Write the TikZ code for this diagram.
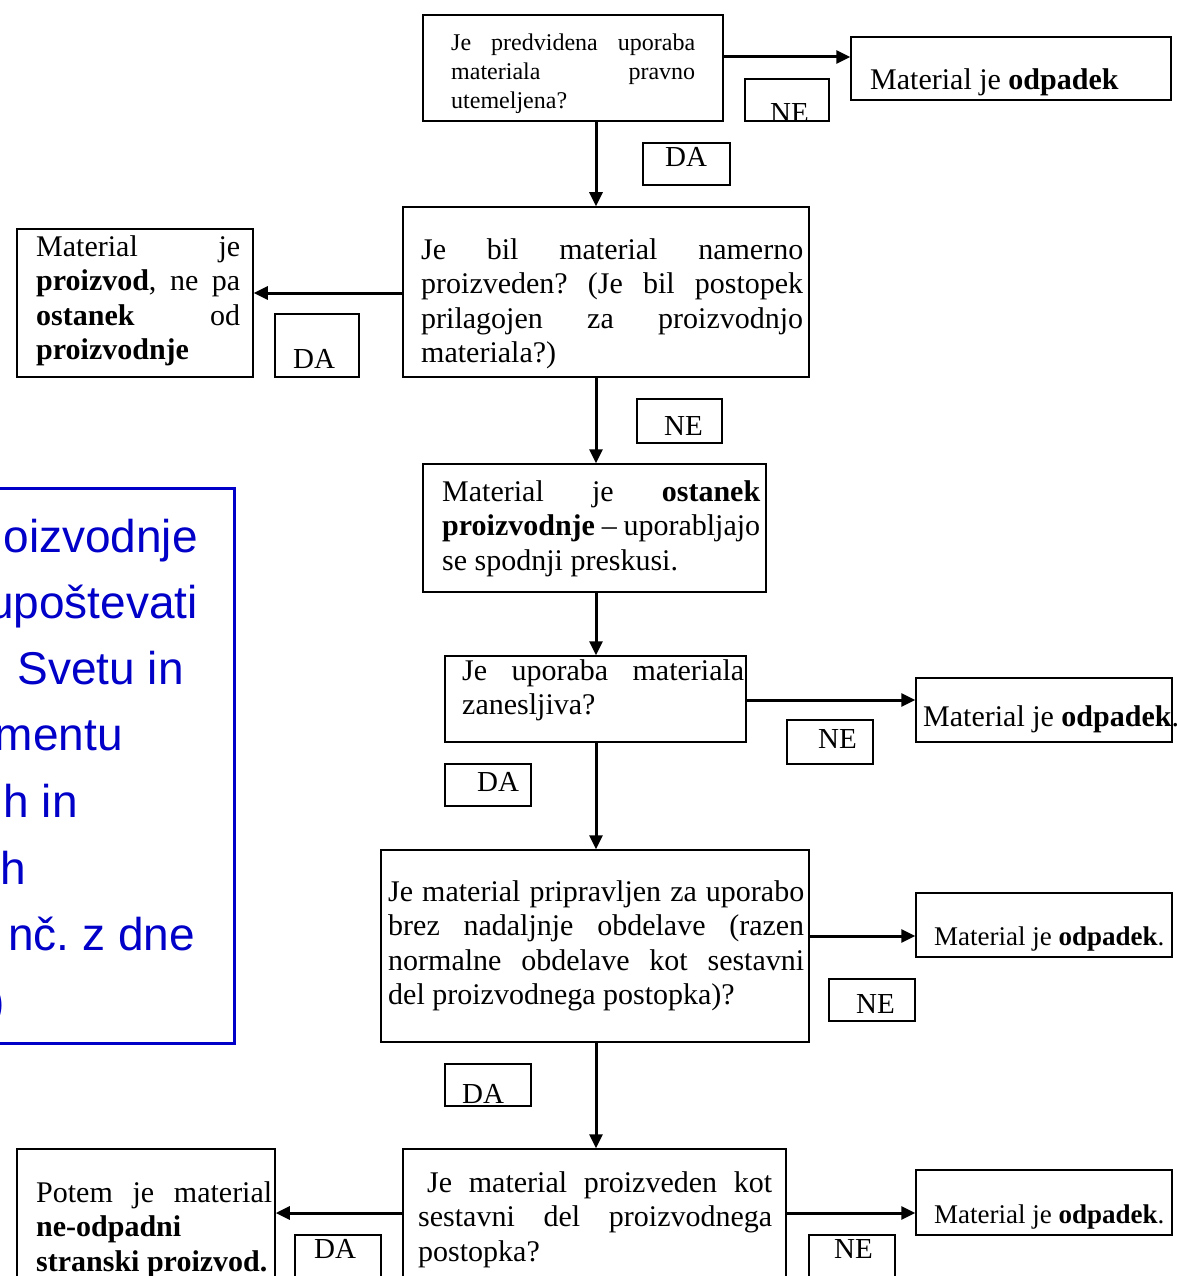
\documentclass[tikz,border=0pt]{standalone}
\usepackage{fontspec}
\setmainfont{Liberation Serif}
\newfontfamily\arialf{Liberation Sans}
\usetikzlibrary{arrows.meta,fit}
\definecolor{pptblue}{RGB}{0,0,200}
\tolerance=10000 \hbadness=10000 \hfuzz=8pt
\frenchspacing
\begin{document}
\begin{tikzpicture}[x=1pt,y=-1pt,
  box/.style={draw, line width=1.5pt, inner sep=0pt, rectangle},
  tag/.style={draw, line width=1.5pt, inner sep=0pt, rectangle},
  txt/.style={anchor=base west, inner sep=0pt, align=justify, font=\fontsize{30}{34.5}\selectfont},
  one/.style={anchor=base west, inner sep=0pt, font=\fontsize{30}{34.5}\selectfont},
  lab/.style={anchor=base west, inner sep=0pt, font=\fontsize{29}{33}\selectfont},
  arr/.style={line width=3pt, -{Triangle[length=14pt,width=13pt]}},
  blu/.style={anchor=base east, inner sep=0pt, text=pptblue, font=\arialf\fontsize{46}{66}\selectfont}]
\useasboundingbox (0,0) rectangle (1177,1276);
\clip (0,0) rectangle (1177,1276);

% row / spine coordinates
\coordinate (spine) at (596,0);
\coordinate (rowA) at (0,57);
\coordinate (rowB) at (0,293);
\coordinate (rowE) at (0,700);
\coordinate (rowG) at (0,936);
\coordinate (rowI) at (0,1213);

% top question
\node[box, fit={(423,15) (723,121)}] (A) {};
\node[txt, text width=244pt, font=\fontsize{24}{29}\selectfont] (At) at (451,51)
  {Je predvidena uporaba\linebreak materiala pravno\linebreak utemeljena?};
\node[box, fit={(851,37) (1171,100)}] (R1) {};
\node[one] (R1t) at (870,90) {Material je \textbf{odpadek}};
\begin{scope}
  \clip (745,79) rectangle (829,121);
  \node[lab] (NE1t) at (770,123) {NE};
\end{scope}
\node[tag, fit={(745,79) (829,121)}] (NE1) {};
\node[tag, fit={(643,143) (730,185)}] (DA1) {};
\node[lab] (DA1t) at (665,167) {DA};

% second question
\node[box, fit={(403,207) (809,377)}] (B) {};
\node[txt, text width=382pt] (Bt) at (421,259)
  {Je bil material namerno\linebreak proizveden? (Je bil postopek\linebreak prilagojen za proizvodnjo\linebreak materiala?)};
\node[box, fit={(17,229) (253,377)}] (C) {};
\node[txt, text width=204pt] (Ct) at (36,256)
  {Material je\linebreak \textbf{proizvod}, ne pa\linebreak \textbf{ostanek} od\linebreak \textbf{proizvodnje}};
\node[tag, fit={(275,314) (359,377)}] (DA2) {};
\node[lab] (DA2t) at (293,368) {DA};
\node[tag, fit={(637,399) (722,443)}] (NE2) {};
\node[lab] (NE2t) at (664,435) {NE};

% ostanek proizvodnje
\node[box, fit={(423,464) (766,592)}] (D) {};
\node[txt, text width=318pt] (Dt) at (442,501)
  {Material je \textbf{ostanek}\linebreak \textbf{proizvodnje} – uporabljajo\linebreak se spodnji preskusi.};

% third question
\node[box, fit={(445,656) (746,742)}] (E) {};
\node[txt, text width=282pt] (Et) at (462,680)
  {Je uporaba materiala\linebreak zanesljiva?};
\node[box, fit={(916,678) (1172,742)}] (F) {};
\node[one] (Ft) at (923,726) {Material je \textbf{odpadek}.};
\node[tag, fit={(787,720) (873,764)}] (NE3) {};
\node[lab] (NE3t) at (818,748) {NE};
\node[tag, fit={(445,764) (531,806)}] (DA3) {};
\node[lab] (DA3t) at (477,791) {DA};

% fourth question
\node[box, fit={(381,850) (809,1042)}] (G) {};
\node[txt, text width=416pt] (Gt) at (388,901)
  {Je material pripravljen za uporabo\linebreak brez nadaljnje obdelave (razen\linebreak normalne obdelave kot sestavni\linebreak del proizvodnega postopka)?};
\node[box, fit={(916,893) (1172,957)}] (H) {};
\node[one, font=\fontsize{27}{31}\selectfont] (Ht) at (934,945) {Material je \textbf{odpadek}.};
\node[tag, fit={(829,979) (915,1021)}] (NE4) {};
\node[lab] (NE4t) at (856,1013) {NE};
\node[tag, fit={(445,1064) (531,1106)}] (DA4) {};
\node[lab] (DA4t) at (462,1103) {DA};

% fifth question
\node[box, fit={(403,1149) (786,1292)}] (I) {};
\node[txt, text width=354pt] (It) at (418,1192)
  {\hspace*{9pt}Je material proizveden kot\linebreak sestavni del proizvodnega\linebreak postopka?};
\node[box, fit={(17,1149) (275,1292)}] (J) {};
\node[txt, text width=236pt] (Jt) at (36,1202)
  {Potem je material\linebreak \mbox{\textbf{ne-odpadni}}\linebreak \textbf{stranski proizvod.}};
\node[tag, fit={(295,1235) (381,1292)}] (DA5) {};
\node[lab] (DA5t) at (314,1258) {DA};
\node[box, fit={(916,1170) (1172,1235)}] (K) {};
\node[one, font=\fontsize{27}{31}\selectfont] (Kt) at (934,1223) {Material je \textbf{odpadek}.};
\node[tag, fit={(809,1235) (895,1292)}] (NE5) {};
\node[lab] (NE5t) at (834,1258) {NE};

% blue note (cut off on the left)
\node[draw=pptblue, line width=3pt, inner sep=0pt, fit={(-30,488) (234,1043)}] (N) {};
\node[blu] (N1) at (198,552) {oizvodnje};
\node[blu] (N2) at (198,618) {upoštevati};
\node[blu] (N3) at (184,684) {Svetu in};
\node[blu] (N4) at (123,750) {mentu};
\node[blu] (N5) at (78,817) {h in};
\node[blu] (N6) at (26,884) {h};
\node[blu] (N7) at (195,950) {nč. z dne};
\node[blu] (N8) at (5,1017) {)};

% connectors
\draw[arr] (A.east |- rowA) -- (R1.west |- rowA);
\draw[arr] (A.south -| spine) -- (B.north -| spine);
\draw[arr] (B.west |- rowB) -- (C.east |- rowB);
\draw[arr] (B.south -| spine) -- (D.north -| spine);
\draw[arr] (D.south -| spine) -- (E.north -| spine);
\draw[arr] (E.east |- rowE) -- (F.west |- rowE);
\draw[arr] (E.south -| spine) -- (G.north -| spine);
\draw[arr] (G.east |- rowG) -- (H.west |- rowG);
\draw[arr] (G.south -| spine) -- (I.north -| spine);
\draw[arr] (I.west |- rowI) -- (J.east |- rowI);
\draw[arr] (I.east |- rowI) -- (K.west |- rowI);
\end{tikzpicture}
\end{document}
